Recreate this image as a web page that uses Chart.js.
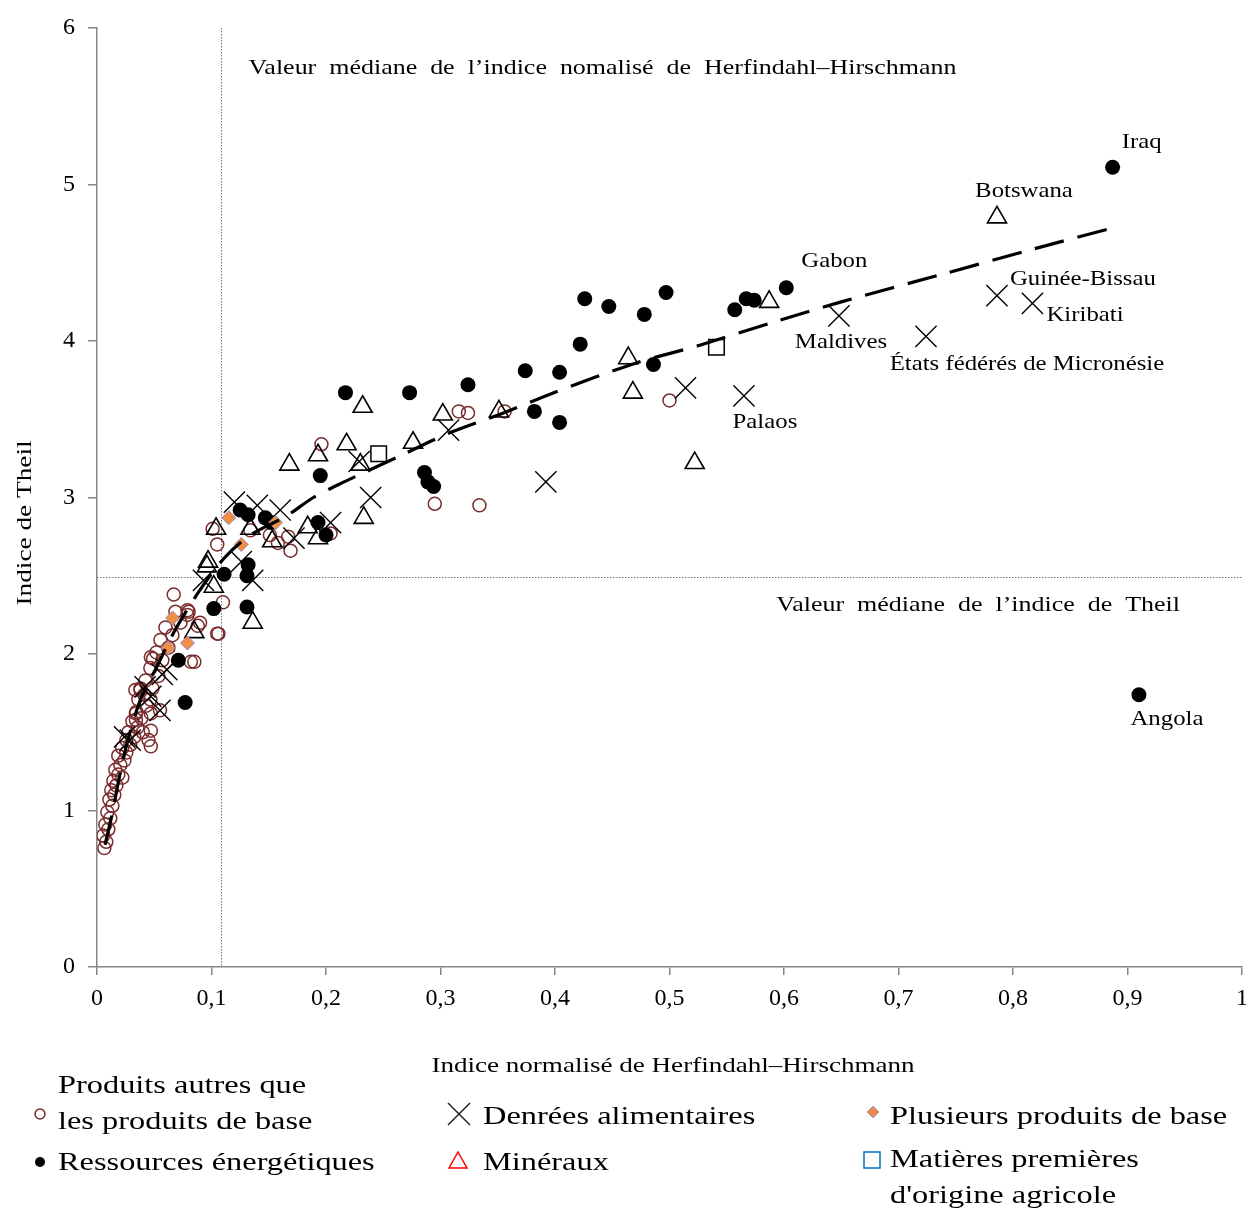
<!DOCTYPE html>
<html>
<head>
<meta charset="utf-8">
<script src="https://cdn.jsdelivr.net/npm/chart.js@4.4.0/dist/chart.umd.min.js"></script>
<style>
html,body{margin:0;padding:0;background:#fff;}
#wrap{width:1250px;height:1211px;position:relative;}
</style>
</head>
<body>
<div id="wrap"><canvas id="c" width="1250" height="1211"></canvas></div>
<script>
// ---------- DATA ----------
const xTickLabels = ['0','0,1','0,2','0,3','0,4','0,5','0,6','0,7','0,8','0,9','1'];
const yTickLabels = ['0','1','2','3','4','5','6'];

const medianHHI = 0.108;
const medianTheil = 2.49;

// Produits autres que les produits de base (hollow circles)
const nonCommodityX = [0.500,0.334,0.295,0.316,0.324,0.356,0.196,0.158,0.169,0.151,0.105,0.101,0.204,0.067,0.079,0.110,0.106,0.088,0.047,0.085,0.038,0.055,0.047,0.047,0.034,
  0.038,0.034,0.047,0.045,0.040,0.082,0.105,0.080,0.090,0.049,0.134,0.167,
  0.0064,0.0081,0.0055,0.0099,0.0073,0.0116,0.0090,0.0134,0.0108,0.0151,0.0125,0.0169,0.0143,0.0186,0.0221,0.0160,0.0204,0.0239,0.0186,0.0256,0.0221,0.0291,0.0256,0.0326,0.0274,0.0352,0.0309,0.0388,0.0344,0.0431,0.0361,0.0414,0.0466,0.0335,0.0484,0.0423,0.0536,0.0466,0.0571,0.0519,0.0624,0.0554,0.0659,0.0598,0.0729,0.0685,0.0790];
const nonCommodityY = [3.62,2.95,2.96,3.55,3.54,3.55,3.34,2.71,2.66,2.76,2.70,2.80,2.77,2.38,2.28,2.33,2.13,2.18,1.98,1.95,1.77,1.64,1.51,1.41,1.58,
  1.78,1.62,1.62,1.45,1.50,1.95,2.13,2.27,2.20,1.97,2.79,2.75,
  0.76,0.80,0.84,0.88,0.91,0.95,0.99,1.03,1.07,1.10,1.13,1.16,1.19,1.23,1.21,1.26,1.29,1.32,1.35,1.37,1.40,1.42,1.45,1.47,1.50,1.53,1.57,1.59,1.63,1.67,1.71,1.74,1.71,1.77,1.78,1.83,1.86,1.91,1.96,2.01,2.04,2.09,2.12,2.17,2.20,2.27,2.25];

// Ressources énergétiques (filled circles)
const energyX = [0.887,0.910,0.602,0.426,0.447,0.478,0.497,0.422,0.374,0.404,0.486,0.382,0.404,0.557,0.567,0.574,
  0.217,0.273,0.324,0.195,0.286,0.289,0.294,0.193,0.200,0.125,0.132,0.147,0.152,0.132,0.131,0.111,0.102,0.131,0.071,0.077];
const energyY = [5.11,1.74,4.34,4.27,4.22,4.17,4.31,3.98,3.81,3.80,3.85,3.55,3.48,4.20,4.27,4.26,
  3.67,3.67,3.72,3.14,3.16,3.10,3.07,2.84,2.76,2.92,2.89,2.87,2.84,2.57,2.50,2.51,2.29,2.30,1.96,1.69];

// Denrées alimentaires (crosses)
const foodX = [0.648,0.724,0.786,0.817,0.565,0.514,0.392,0.239,0.307,0.229,0.120,0.140,0.160,0.172,0.204,0.093,0.136,0.061,0.047,0.055,0.029,0.126,0.057,0.042,0.024];
const foodY = [4.16,4.03,4.29,4.24,3.65,3.70,3.10,3.00,3.43,3.23,2.97,2.95,2.92,2.74,2.84,2.47,2.47,1.90,1.73,1.64,1.45,2.59,1.87,1.79,1.47];

// Minéraux (triangles)
const mineralX = [0.786,0.587,0.464,0.468,0.522,0.232,0.302,0.351,0.168,0.193,0.218,0.276,0.230,0.233,0.104,0.134,0.153,0.184,0.193,0.097,0.102,0.136,0.096,0.085];
const mineralY = [4.79,4.25,3.89,3.67,3.22,3.58,3.53,3.55,3.21,3.27,3.34,3.35,3.21,2.87,2.80,2.80,2.72,2.81,2.74,2.59,2.43,2.20,2.56,2.14];

// Plusieurs produits de base (diamonds)
const multiX = [0.115,0.126,0.066,0.062,0.079,0.156];
const multiY = [2.87,2.70,2.23,2.04,2.07,2.84];

// Matières premières d'origine agricole (squares)
const agriX = [0.246,0.541];
const agriY = [3.28,3.96];

// Trend line
const trendX = [0.007,0.013,0.020,0.027,0.038,0.051,0.068,0.090,0.112,0.134,0.165,0.189,0.213,0.266,0.307,0.355,0.399,0.471,0.525,0.595,0.650,0.735,0.819,0.891];
const trendY = [0.78,0.97,1.23,1.45,1.71,1.90,2.15,2.41,2.62,2.76,2.88,3.00,3.09,3.27,3.41,3.54,3.67,3.86,3.97,4.13,4.25,4.42,4.59,4.73];

// Country labels
const countryNames = ['Iraq','Botswana','Gabon','Guinée-Bissau','Kiribati','Maldives','États fédérés de Micronésie','Palaos','Angola'];
const countryX = [0.887,0.786,0.602,0.786,0.817,0.648,0.724,0.565,0.910];
const countryY = [5.11,4.79,4.34,4.29,4.24,4.16,4.03,3.65,1.74];

const legendLabels = [['Produits autres que','les produits de base'],['Ressources énergétiques'],['Denrées alimentaires'],['Minéraux'],['Plusieurs produits de base'],['Matières premières',"d'origine agricole"]];

// ---------- BUILD ----------
const zip = (xs, ys) => xs.map((x, i) => ({x: x, y: ys[i]}));
const SERIF = '"Liberation Serif", "Times New Roman", serif';
const AXIS = '#868686';
const BROWN = '#7a2c2c';
const SX = 1.18; // horizontal stretch of the reference typeface

// label offsets (px) relative to the point: [dx, dy, align]
const labelStyle = [[29,-25,'center'],[27,-26,'center'],[48,-26,'center'],[13,-16,'left'],[14,12,'left'],[2,27,'center'],[101,28,'center'],[21,27,'center'],[28,25,'center']];

function sText(ctx, t, x, y, align, sx) {
  ctx.save();
  ctx.translate(x, y);
  ctx.scale(sx, 1);
  ctx.textAlign = align;
  ctx.fillText(t, 0, 0);
  ctx.restore();
}

const bgPlugin = {
  id: 'bg',
  beforeDraw(chart) {
    const ctx = chart.ctx;
    ctx.save(); ctx.fillStyle = '#fff'; ctx.fillRect(0, 0, chart.width, chart.height); ctx.restore();
  }
};

const medianPlugin = {
  id: 'medians',
  beforeDatasetsDraw(chart) {
    const {ctx, chartArea, scales} = chart;
    const xs = scales.x, ys = scales.y;
    ctx.save();
    ctx.strokeStyle = '#777';
    ctx.lineWidth = 1;
    ctx.setLineDash([1.5, 1.5]);
    const mx = Math.round(xs.getPixelForValue(medianHHI)) + 0.5;
    ctx.beginPath(); ctx.moveTo(mx, ys.getPixelForValue(6)); ctx.lineTo(mx, ys.getPixelForValue(0)); ctx.stroke();
    const my = Math.round(ys.getPixelForValue(medianTheil)) + 0.5;
    ctx.beginPath(); ctx.moveTo(xs.getPixelForValue(0), my); ctx.lineTo(xs.getPixelForValue(1), my); ctx.stroke();
    ctx.setLineDash([]);
    ctx.fillStyle = '#000';
    ctx.font = '22px ' + SERIF;
    ctx.textBaseline = 'middle';
    sText(ctx, 'Valeur  médiane  de  l’indice  nomalisé  de  Herfindahl–Hirschmann', mx + 27, chartArea.top + 40, 'left', SX);
    sText(ctx, 'Valeur  médiane  de  l’indice  de  Theil', chartArea.right - 62, my + 28, 'right', SX);
    ctx.restore();
  }
};

const labelPlugin = {
  id: 'labels',
  afterDatasetsDraw(chart) {
    const {ctx, scales} = chart;
    ctx.save();
    ctx.fillStyle = '#000';
    ctx.font = '21px ' + SERIF;
    ctx.textBaseline = 'middle';
    countryNames.forEach((n, i) => {
      const px = scales.x.getPixelForValue(countryX[i]);
      const py = scales.y.getPixelForValue(countryY[i]);
      const st = labelStyle[i];
      sText(ctx, n, px + st[0], py + st[1], st[2], SX);
    });
    ctx.restore();
  }
};

function drawMarker(ctx, kind, x, y) {
  ctx.save();
  ctx.lineWidth = 1.5;
  if (kind === 'circle') {
    ctx.strokeStyle = BROWN; ctx.beginPath(); ctx.arc(x, y, 5, 0, Math.PI*2); ctx.stroke();
  } else if (kind === 'dot') {
    ctx.fillStyle = '#000'; ctx.beginPath(); ctx.arc(x, y, 5, 0, Math.PI*2); ctx.fill();
  } else if (kind === 'cross') {
    ctx.strokeStyle = '#222'; ctx.beginPath();
    ctx.moveTo(x-11, y-11); ctx.lineTo(x+11, y+11); ctx.moveTo(x+11, y-11); ctx.lineTo(x-11, y+11); ctx.stroke();
  } else if (kind === 'tri') {
    ctx.strokeStyle = '#ff0000'; ctx.beginPath();
    ctx.moveTo(x, y-9); ctx.lineTo(x+9, y+7); ctx.lineTo(x-9, y+7); ctx.closePath(); ctx.stroke();
  } else if (kind === 'diamond') {
    ctx.fillStyle = '#e98a4c'; ctx.strokeStyle = '#b09ac8'; ctx.lineWidth = 1;
    ctx.beginPath(); ctx.moveTo(x, y-6); ctx.lineTo(x+6, y); ctx.lineTo(x, y+6); ctx.lineTo(x-6, y); ctx.closePath(); ctx.fill(); ctx.stroke();
  } else if (kind === 'square') {
    ctx.strokeStyle = '#0070c0'; ctx.strokeRect(x-8, y-8, 16, 16);
  }
  ctx.restore();
}

const outerPlugin = {
  id: 'outer',
  afterDraw(chart) {
    const {ctx, chartArea} = chart;
    ctx.save();
    ctx.fillStyle = '#000';
    // axis titles
    ctx.font = '22px ' + SERIF;
    ctx.textBaseline = 'middle';
    sText(ctx, 'Indice normalisé de Herfindahl–Hirschmann', 673, chartArea.bottom + 99, 'center', 1.23);
    ctx.save();
    ctx.translate(25, 523);
    ctx.rotate(-Math.PI / 2);
    sText(ctx, 'Indice de Theil', 0, 0, 'center', 1.24);
    ctx.restore();
    // legend
    ctx.font = '26px ' + SERIF;
    const base = chartArea.bottom;
    const items = [
      {kind:'circle', mx:40, my:base+147, tx:58, ty:[base+119, base+155]},
      {kind:'dot', mx:40, my:base+195, tx:58, ty:[base+196]},
      {kind:'cross', mx:459, my:base+147, tx:483, ty:[base+150]},
      {kind:'tri', mx:458, my:base+194, tx:483, ty:[base+196]},
      {kind:'diamond', mx:873, my:base+145, tx:890, ty:[base+150]},
      {kind:'square', mx:872, my:base+193, tx:890, ty:[base+193, base+229]}
    ];
    items.forEach((it, i) => {
      drawMarker(ctx, it.kind, it.mx, it.my);
      legendLabels[i].forEach((t, j) => sText(ctx, t, it.tx, it.ty[j], 'left', 1.245));
    });
    ctx.restore();
  }
};

const data = {
  datasets: [
    {label:'trend', type:'line', data: zip(trendX, trendY), showLine:true, borderColor:'#000', borderWidth:3.2, borderDash:[30,14], pointRadius:0, fill:false, tension:0.3, order:0},
    {label:'agri', data: zip(agriX, agriY), pointStyle:'rect', pointRadius:11, borderColor:'#000', borderWidth:1.5, backgroundColor:'rgba(0,0,0,0)', order:1},
    {label:'multi', data: zip(multiX, multiY), pointStyle:'rectRot', pointRadius:7, borderColor:'#9c86c4', borderWidth:1, backgroundColor:'#ee8f45', order:1},
    {label:'food', data: zip(foodX, foodY), pointStyle:'crossRot', pointRadius:15, borderColor:'#000', borderWidth:1.4, order:2},
    {label:'mineral', data: zip(mineralX, mineralY), pointStyle:'triangle', pointRadius:11, borderColor:'#000', borderWidth:1.6, backgroundColor:'rgba(255,255,255,0)', order:3},
    {label:'energy', data: zip(energyX, energyY), pointStyle:'circle', pointRadius:7.5, borderColor:'#000', borderWidth:0, backgroundColor:'#000', order:4},
    {label:'noncom', data: zip(nonCommodityX, nonCommodityY), pointStyle:'circle', pointRadius:6.5, borderColor:BROWN, borderWidth:1.5, backgroundColor:'rgba(0,0,0,0)', order:5}
  ]
};

new Chart(document.getElementById('c'), {
  type: 'scatter',
  data: data,
  options: {
    responsive: false,
    animation: false,
    devicePixelRatio: 1,
    layout: {autoPadding: false, padding: {left: 0, top: 28, right: 8, bottom: 0}},
    plugins: {legend: {display: false}, tooltip: {enabled: false}},
    elements: {point: {hoverRadius: 0}},
    scales: {
      x: {
        type: 'linear', min: 0, max: 1,
        afterFit(s) { s.height = 244; s.paddingLeft = 0; s.paddingRight = 0; },
        afterBuildTicks(s) { s.ticks = xTickLabels.map((t, i) => ({value: i / 10})); },
        ticks: {color:'#000', font:{family:SERIF, size:24}, padding:9, maxRotation:0, autoSkip:false,
          callback: (v, i) => xTickLabels[i]},
        grid: {display:true, drawOnChartArea:false, drawTicks:true, tickLength:8, color:AXIS, lineWidth:1.5},
        border: {display:true, color:AXIS, width:1.5}
      },
      y: {
        type: 'linear', min: 0, max: 6,
        afterFit(s) { s.width = 97; s.paddingTop = 0; s.paddingBottom = 0; },
        afterBuildTicks(s) { s.ticks = yTickLabels.map((t, i) => ({value: i})); },
        ticks: {color:'#000', font:{family:SERIF, size:24}, padding:13, autoSkip:false,
          callback: (v, i) => yTickLabels[i]},
        grid: {display:true, drawOnChartArea:false, drawTicks:true, tickLength:9, color:AXIS, lineWidth:1.5},
        border: {display:true, color:AXIS, width:1.5}
      }
    }
  },
  plugins: [bgPlugin, medianPlugin, labelPlugin, outerPlugin]
});
</script>
</body>
</html>
